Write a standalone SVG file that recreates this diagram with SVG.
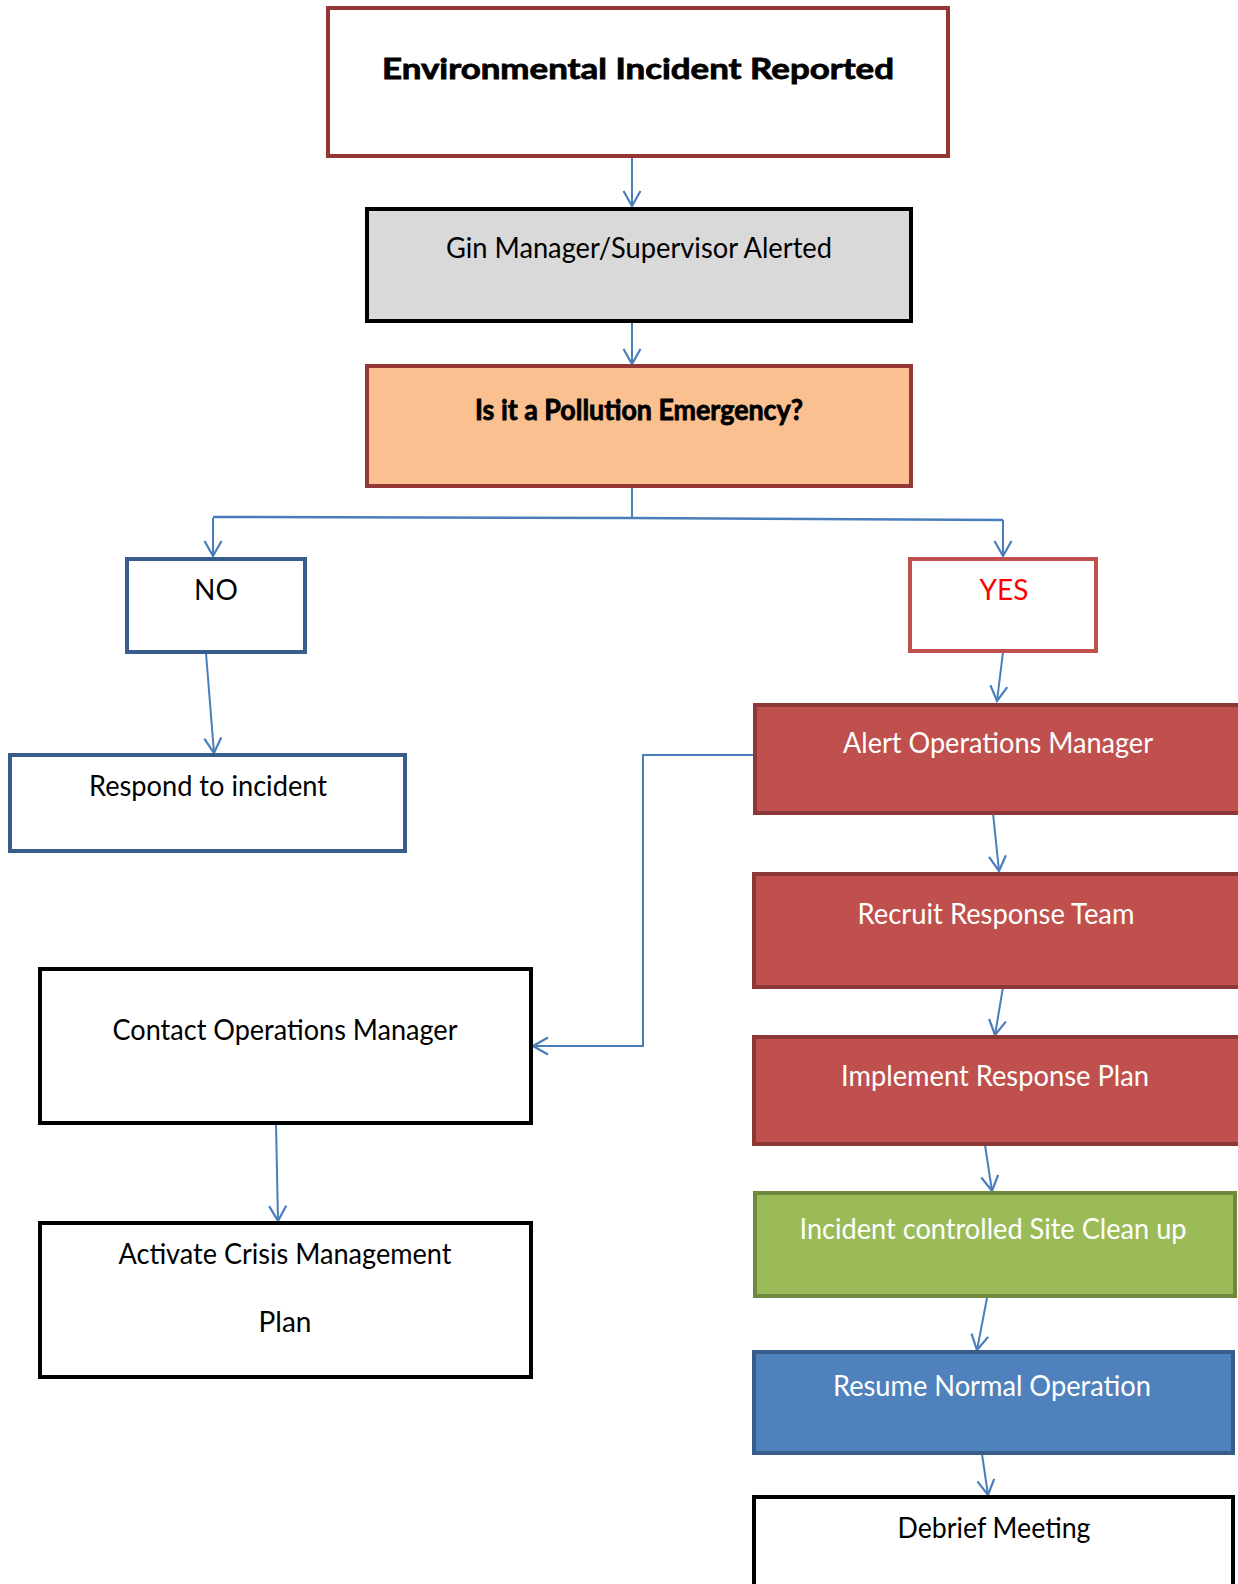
<svg xmlns="http://www.w3.org/2000/svg" width="1238" height="1584" viewBox="0 0 1238 1584">
<style>
.t{font-family:Lato,"Open Sans","Liberation Sans",sans-serif;font-size:28px;text-anchor:middle;fill:#000}
.w{fill:#fff}
.b{font-weight:bold;stroke:#000;stroke-width:0.8}
.c{fill:none;stroke:#4a7ebb;stroke-width:2}
.box{stroke-width:4}
</style>
<defs>
<marker id="arr" viewBox="-17 -10 19 20" markerWidth="19" markerHeight="20" refX="0" refY="0" orient="auto" markerUnits="userSpaceOnUse">
<path d="M-15,-8.5 L0,0 L-15,8.5" fill="none" stroke="#4a7ebb" stroke-width="2.2"/>
</marker>
</defs>
<rect width="1238" height="1584" fill="#fff"/>
<g id="connectors">
<line class="c" x1="632" y1="157" x2="632" y2="206" marker-end="url(#arr)"/>
<line class="c" x1="632" y1="321" x2="632" y2="364" marker-end="url(#arr)"/>
<polyline class="c" points="632,486 632,518"/>
<polyline class="c" style="stroke-width:2.5" points="213,517 632,518 1003,520"/>
<line class="c" x1="213" y1="518" x2="213" y2="556" marker-end="url(#arr)"/>
<line class="c" x1="1003" y1="520" x2="1003" y2="556" marker-end="url(#arr)"/>
<line class="c" x1="206" y1="653" x2="214" y2="753" marker-end="url(#arr)"/>
<line class="c" x1="1003" y1="652" x2="997" y2="701" marker-end="url(#arr)"/>
<polyline class="c" points="754,755 643,755 643,1046 533,1046" marker-end="url(#arr)"/>
<line class="c" x1="993" y1="813" x2="999" y2="871" marker-end="url(#arr)"/>
<line class="c" x1="1003" y1="987" x2="995" y2="1035" marker-end="url(#arr)"/>
<line class="c" x1="985" y1="1145" x2="992" y2="1191" marker-end="url(#arr)"/>
<line class="c" x1="987" y1="1298" x2="977" y2="1350" marker-end="url(#arr)"/>
<line class="c" x1="982" y1="1454" x2="988" y2="1495" marker-end="url(#arr)"/>
<line class="c" x1="276" y1="1124" x2="278" y2="1221" marker-end="url(#arr)"/>
</g>
<g id="n-reported">
<rect class="box" x="328" y="8" width="620" height="148" fill="#fff" stroke="#953735"/>
<text class="t b" x="638" y="79" font-size="35" textLength="512" lengthAdjust="spacingAndGlyphs">Environmental Incident Reported</text>
</g>
<g id="n-alerted">
<rect class="box" x="367" y="209" width="544" height="112" fill="#d9d9d9" stroke="#000"/>
<text class="t" x="639" y="258" textLength="386" lengthAdjust="spacingAndGlyphs">Gin Manager/Supervisor Alerted</text>
</g>
<g id="n-emergency">
<rect class="box" x="367" y="366" width="544" height="120" fill="#fac090" stroke="#953735"/>
<text class="t b" x="639" y="420" textLength="328" lengthAdjust="spacingAndGlyphs">Is it a Pollution Emergency?</text>
</g>
<g id="n-no">
<rect class="box" x="127" y="559" width="178" height="93" fill="#fff" stroke="#385d8a"/>
<text class="t" x="216" y="600" font-size="26">NO</text>
</g>
<g id="n-yes">
<rect class="box" x="910" y="559" width="186" height="92" fill="#fff" stroke="#c0504d"/>
<text class="t" x="1004" y="600" font-size="26" style="fill:#ff0000">YES</text>
</g>
<g id="n-respond">
<rect class="box" x="10" y="755" width="395" height="96" fill="#fff" stroke="#385d8a"/>
<text class="t" x="208" y="796" textLength="238" lengthAdjust="spacingAndGlyphs">Respond to incident</text>
</g>
<g id="n-alert-ops">
<rect class="box" x="755" y="705" width="490" height="108" fill="#c0504d" stroke="#8c3836"/>
<text class="t w" x="998" y="753" textLength="310" lengthAdjust="spacingAndGlyphs">Alert Operations Manager</text>
</g>
<g id="n-recruit">
<rect class="box" x="754" y="874" width="490" height="113" fill="#c0504d" stroke="#8c3836"/>
<text class="t w" x="996" y="924" textLength="277" lengthAdjust="spacingAndGlyphs">Recruit Response Team</text>
</g>
<g id="n-implement">
<rect class="box" x="754" y="1037" width="490" height="107" fill="#c0504d" stroke="#8c3836"/>
<text class="t w" x="995" y="1086" textLength="308" lengthAdjust="spacingAndGlyphs">Implement Response Plan</text>
</g>
<g id="n-cleanup">
<rect class="box" x="755" y="1193" width="480" height="103" fill="#9bbb59" stroke="#71893f"/>
<text class="t w" x="993" y="1239" textLength="387" lengthAdjust="spacingAndGlyphs">Incident controlled Site Clean up</text>
</g>
<g id="n-resume">
<rect class="box" x="754" y="1352" width="479" height="101" fill="#4f81bd" stroke="#385d8a"/>
<text class="t w" x="992" y="1396" textLength="318" lengthAdjust="spacingAndGlyphs">Resume Normal Operation</text>
</g>
<g id="n-debrief">
<rect class="box" x="754" y="1497" width="479" height="100" fill="#fff" stroke="#000"/>
<text class="t" x="994" y="1538" textLength="193" lengthAdjust="spacingAndGlyphs">Debrief Meeting</text>
</g>
<g id="n-contact">
<rect class="box" x="40" y="969" width="491" height="154" fill="#fff" stroke="#000"/>
<text class="t" x="285" y="1040" textLength="345" lengthAdjust="spacingAndGlyphs">Contact Operations Manager</text>
</g>
<g id="n-crisis">
<rect class="box" x="40" y="1223" width="491" height="154" fill="#fff" stroke="#000"/>
<text class="t" x="285" y="1264" textLength="333" lengthAdjust="spacingAndGlyphs">Activate Crisis Management</text>
<text class="t" x="285" y="1332">Plan</text>
</g>
</svg>
